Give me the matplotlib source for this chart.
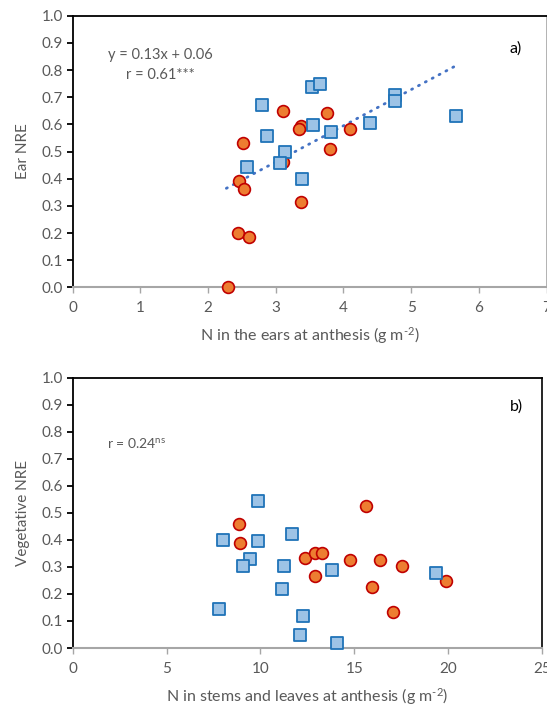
import numpy as np
import matplotlib.pyplot as plt

plt.rcParams['font.family'] = ['Lato', 'DejaVu Sans']
plt.rcParams['mathtext.fontset'] = 'custom'
plt.rcParams['mathtext.rm'] = 'Lato'
plt.rcParams['mathtext.it'] = 'Lato:italic'
plt.rcParams['mathtext.bf'] = 'Lato:bold'

# a) N in ears at anthesis vs ear NRE
ear_sq_x = [2.80, 3.53, 3.65, 4.76, 4.76, 5.66, 3.55, 3.81, 4.39, 2.87, 3.14, 3.07, 2.57, 3.39]
ear_sq_y = [0.672, 0.737, 0.747, 0.709, 0.687, 0.630, 0.597, 0.572, 0.607, 0.558, 0.500, 0.458, 0.442, 0.399]
ear_ci_x = [3.11, 3.75, 3.37, 3.34, 4.09, 2.51, 3.80, 3.11, 2.45, 2.53, 3.38, 2.44, 2.61, 2.29]
ear_ci_y = [0.648, 0.643, 0.595, 0.582, 0.582, 0.530, 0.510, 0.462, 0.393, 0.362, 0.313, 0.200, 0.186, 0.0]
trend_slope = 0.133
trend_intercept = 0.063

# b) N in stems and leaves vs vegetative NRE
veg_sq_x = [9.89, 8.00, 9.86, 11.67, 9.42, 9.08, 11.28, 11.14, 7.80, 13.80, 12.26, 12.11, 14.10, 19.37]
veg_sq_y = [0.545, 0.399, 0.394, 0.422, 0.329, 0.303, 0.304, 0.219, 0.143, 0.289, 0.118, 0.049, 0.017, 0.277]
veg_ci_x = [8.87, 8.90, 15.63, 12.35, 12.91, 13.30, 14.76, 16.39, 17.56, 19.89, 12.90, 15.93, 17.05]
veg_ci_y = [0.458, 0.388, 0.524, 0.334, 0.351, 0.351, 0.326, 0.325, 0.303, 0.249, 0.267, 0.224, 0.134]

sq_fill, sq_edge = '#9DC3E6', '#1F73B8'
ci_fill, ci_edge = '#ED7D31', '#C00000'
txt_gray = '#595959'
spine_gray = '#A6A6A6'

fig = plt.figure(figsize=(5.47, 7.09), dpi=100)
ax1 = fig.add_axes([72.7 / 547, 1 - 287.5 / 709, (546.5 - 72.7) / 547, (287.5 - 15.7) / 709])
ax2 = fig.add_axes([72.7 / 547, 1 - 648 / 709, (542 - 72.7) / 547, (648 - 377.5) / 709])


def style(ax, xmax, xstep, right_color):
    ax.set_ylim(0, 1.0)
    ax.set_xlim(0, xmax)
    ax.set_yticks(np.arange(0, 1.01, 0.1))
    ax.set_yticklabels([f'{v:.1f}' for v in np.arange(0, 1.01, 0.1)])
    ax.set_xticks(np.arange(0, xmax + 0.1, xstep))
    ax.set_xticklabels([f'{int(v)}' for v in np.arange(0, xmax + 0.1, xstep)])
    for s in ['left', 'top']:
        ax.spines[s].set_color('black')
        ax.spines[s].set_linewidth(1.3)
    ax.spines['bottom'].set_color(spine_gray)
    ax.spines['bottom'].set_linewidth(1.5)
    ax.spines['right'].set_color(right_color)
    ax.spines['right'].set_linewidth(1.2)
    ax.tick_params(axis='y', direction='out', length=4, width=1.3, color='black',
                   labelsize=11, labelcolor=txt_gray, pad=3)
    ax.tick_params(axis='x', direction='out', length=4, width=1, color=spine_gray,
                   labelsize=11, labelcolor=txt_gray, pad=6)


# panel a
style(ax1, 7, 1, spine_gray)
tx = np.array([min(ear_sq_x + ear_ci_x) - 0.02, max(ear_sq_x + ear_ci_x)])
ax1.plot(tx, trend_slope * tx + trend_intercept, color='#4472C4', lw=2.0,
         linestyle=(0, (0.4, 2.4)), dash_capstyle='round', zorder=2)
ax1.scatter(ear_ci_x, ear_ci_y, s=72, marker='o', facecolor=ci_fill, edgecolor=ci_edge,
            linewidth=1.2, zorder=3, clip_on=False)
ax1.scatter(ear_sq_x, ear_sq_y, s=72, marker='s', facecolor=sq_fill, edgecolor=sq_edge,
            linewidth=1.3, zorder=4, clip_on=False)
ax1.text(160.5 / 547, 1 - 55 / 709, 'y = 0.13x + 0.06', transform=fig.transFigure,
         ha='center', va='center', fontsize=10.5, color=txt_gray)
ax1.text(160.5 / 547, 1 - 75 / 709, 'r = 0.61***', transform=fig.transFigure,
         ha='center', va='center', fontsize=10.5, color=txt_gray)
ax1.text(516 / 547, 1 - 49 / 709, 'a)', transform=fig.transFigure,
         ha='center', va='center', fontsize=11.5, color='black')
ax1.set_ylabel('Ear NRE', fontsize=11, color=txt_gray, labelpad=8)
ax1.set_xlabel('N in the ears at anthesis (g m$^{\\text{-2}}$)', fontsize=11.5, color=txt_gray, labelpad=7)

# panel b
style(ax2, 25, 5, 'black')
ax2.scatter(veg_ci_x, veg_ci_y, s=72, marker='o', facecolor=ci_fill, edgecolor=ci_edge,
            linewidth=1.2, zorder=3, clip_on=False)
ax2.scatter(veg_sq_x, veg_sq_y, s=72, marker='s', facecolor=sq_fill, edgecolor=sq_edge,
            linewidth=1.3, zorder=4, clip_on=False)
ax2.text(107 / 547, 1 - 443 / 709, 'r = 0.24$^{\\mathrm{ns}}$', transform=fig.transFigure,
         ha='left', va='center', fontsize=10, color=txt_gray)
ax2.text(516 / 547, 1 - 407 / 709, 'b)', transform=fig.transFigure,
         ha='center', va='center', fontsize=11.5, color='black')
ax2.set_ylabel('Vegetative NRE', fontsize=11, color=txt_gray, labelpad=8)
ax2.set_xlabel('N in stems and leaves at anthesis (g m$^{\\text{-2}}$)', fontsize=11.5, color=txt_gray, labelpad=7)

fig.savefig('out.png', dpi=100)
